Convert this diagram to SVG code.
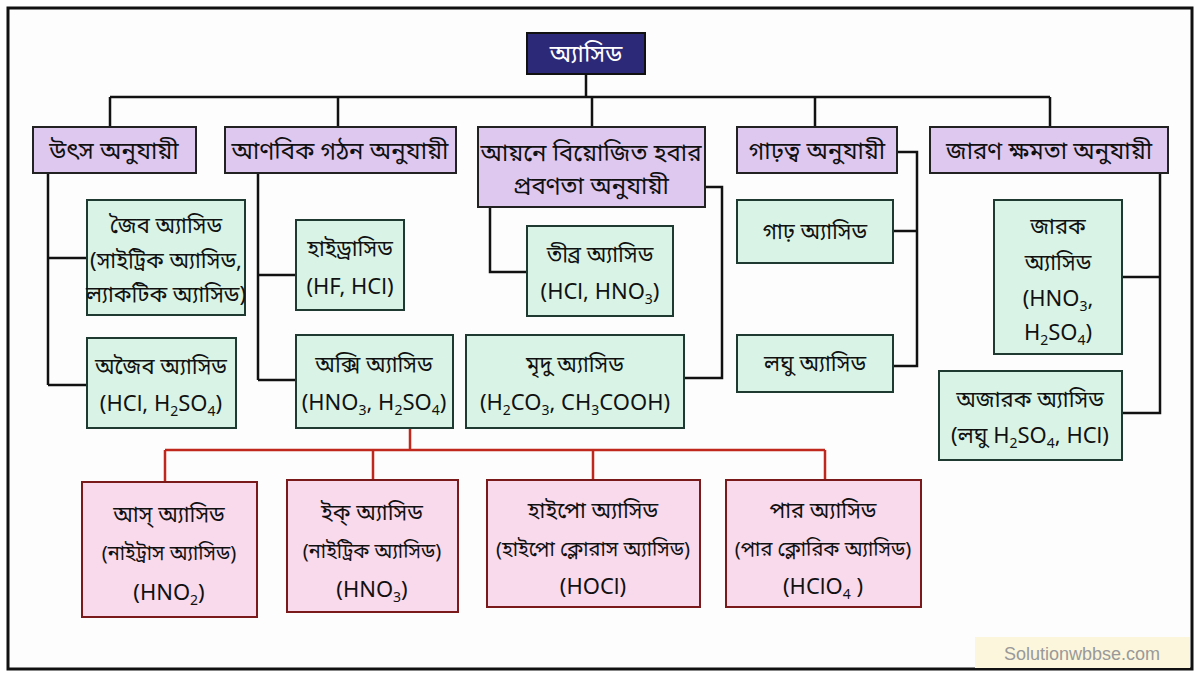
<svg xmlns="http://www.w3.org/2000/svg" width="1200" height="677" viewBox="0 0 1200 677">
<style>
text{font-family:"Noto Sans Bengali","Noto Sans","Liberation Sans",sans-serif;font-size:22px;fill:#111;text-anchor:middle}
.ct{font-size:24px}
.cat{fill:#dfc8ef;stroke:#222;stroke-width:2}
.grn{fill:#d9f4e6;stroke:#1f3a30;stroke-width:2}
.pnk{fill:#f9d9ec;stroke:#7a1a1a;stroke-width:2}
.ln{fill:none;stroke:#111;stroke-width:2.5}
.rl{fill:none;stroke:#c0281e;stroke-width:2.5}
.s{font-size:14px}
</style>
<rect width="1200" height="677" fill="#fff"/>
<rect x="8" y="8" width="1184" height="661" fill="#fdfdfd" stroke="#111" stroke-width="3"/>
<g id="connectors">
<path class="ln" d="M586 74V97M110 97H1050M110 97V127M338 97V127M592 97V127M815 97V127M1050 97V127"/>
<path class="ln" d="M48 173V385M48 258H87M48 385H87"/>
<path class="ln" d="M258 173V380M258 275H296M258 380H296"/>
<path class="ln" d="M490 207V272H527M705 187H722V378H684"/>
<path class="ln" d="M897 152H917V366H893M917 231H893"/>
<path class="ln" d="M1160 173V413H1122M1160 277H1122"/>
<path class="rl" d="M410 428V450M165 450H825M165 450V482M373 450V480M593 450V480M825 450V480"/>
</g>
<g id="root"><rect x="527" y="33" width="118" height="41" fill="#2c2a78" stroke="#111" stroke-width="2"/><text x="586" y="62" class="ct" style="fill:#fff">অ্যাসিড</text></g>
<g id="c1"><rect class="cat" x="33" y="127" width="163" height="46"/><text x="114" y="159" class="ct">উৎস অনুযায়ী</text></g>
<g id="c2"><rect class="cat" x="225" y="127" width="231" height="46"/><text x="340" y="159" class="ct">আণবিক গঠন অনুযায়ী</text></g>
<g id="c3"><rect class="cat" x="478" y="127" width="227" height="80"/><text x="591" y="161" class="ct">আয়নে বিয়োজিত হবার</text><text x="591" y="194" class="ct">প্রবণতা অনুযায়ী</text></g>
<g id="c4"><rect class="cat" x="737" y="127" width="160" height="46"/><text x="817" y="159" class="ct">গাঢ়ত্ব অনুযায়ী</text></g>
<g id="c5"><rect class="cat" x="930" y="127" width="238" height="46"/><text x="1049" y="159" class="ct">জারণ ক্ষমতা অনুযায়ী</text></g>
<g id="g1"><rect class="grn" x="87" y="200" width="158" height="115"/><text x="166" y="233">জৈব অ্যাসিড</text><text x="166" y="268">(সাইট্রিক অ্যাসিড,</text><text x="166" y="302">ল্যাকটিক অ্যাসিড)</text></g>
<g id="g2"><rect class="grn" x="87" y="338" width="149" height="90"/><text x="161" y="374">অজৈব অ্যাসিড</text><text x="161" y="411">(HCl, H<tspan class="s" dy="5">2</tspan><tspan dy="-5">SO</tspan><tspan class="s" dy="5">4</tspan><tspan dy="-5">)</tspan></text></g>
<g id="g3"><rect class="grn" x="296" y="220" width="108" height="90"/><text x="350" y="256">হাইড্রাসিড</text><text x="350" y="294">(HF, HCl)</text></g>
<g id="g4"><rect class="grn" x="296" y="335" width="157" height="93"/><text x="374" y="372">অক্সি অ্যাসিড</text><text x="374" y="410">(HNO<tspan class="s" dy="5">3</tspan><tspan dy="-5">, H</tspan><tspan class="s" dy="5">2</tspan><tspan dy="-5">SO</tspan><tspan class="s" dy="5">4</tspan><tspan dy="-5">)</tspan></text></g>
<g id="g5"><rect class="grn" x="527" y="226" width="146" height="90"/><text x="600" y="262">তীব্র অ্যাসিড</text><text x="600" y="299">(HCl, HNO<tspan class="s" dy="5">3</tspan><tspan dy="-5">)</tspan></text></g>
<g id="g6"><rect class="grn" x="466" y="335" width="218" height="93"/><text x="575" y="372">মৃদু অ্যাসিড</text><text x="575" y="410">(H<tspan class="s" dy="5">2</tspan><tspan dy="-5">CO</tspan><tspan class="s" dy="5">3</tspan><tspan dy="-5">, CH</tspan><tspan class="s" dy="5">3</tspan><tspan dy="-5">COOH)</tspan></text></g>
<g id="g7"><rect class="grn" x="737" y="200" width="156" height="63"/><text x="815" y="239">গাঢ় অ্যাসিড</text></g>
<g id="g8"><rect class="grn" x="737" y="335" width="156" height="57"/><text x="815" y="371">লঘু অ্যাসিড</text></g>
<g id="g9"><rect class="grn" x="994" y="200" width="128" height="154"/><text x="1058" y="234">জারক</text><text x="1058" y="270">অ্যাসিড</text><text x="1058" y="306">(HNO<tspan class="s" dy="5">3</tspan><tspan dy="-5">,</tspan></text><text x="1058" y="340">H<tspan class="s" dy="5">2</tspan><tspan dy="-5">SO</tspan><tspan class="s" dy="5">4</tspan><tspan dy="-5">)</tspan></text></g>
<g id="g10"><rect class="grn" x="939" y="371" width="183" height="89"/><text x="1030" y="407">অজারক অ্যাসিড</text><text x="1030" y="443">(লঘু H<tspan class="s" dy="5">2</tspan><tspan dy="-5">SO</tspan><tspan class="s" dy="5">4</tspan><tspan dy="-5">, HCl)</tspan></text></g>
<g id="p1"><rect class="pnk" x="82" y="482" width="175" height="135"/><text x="169" y="522">আস্ অ্যাসিড</text><text x="169" y="560" style="font-size:20px">(নাইট্রাস অ্যাসিড)</text><text x="169" y="600">(HNO<tspan class="s" dy="5">2</tspan><tspan dy="-5">)</tspan></text></g>
<g id="p2"><rect class="pnk" x="287" y="480" width="171" height="132"/><text x="372" y="520">ইক্ অ্যাসিড</text><text x="372" y="558" style="font-size:20px">(নাইট্রিক অ্যাসিড)</text><text x="372" y="597">(HNO<tspan class="s" dy="5">3</tspan><tspan dy="-5">)</tspan></text></g>
<g id="p3"><rect class="pnk" x="487" y="480" width="213" height="127"/><text x="593" y="518">হাইপো অ্যাসিড</text><text x="593" y="556" style="font-size:20px">(হাইপো ক্লোরাস অ্যাসিড)</text><text x="593" y="594">(HOCl)</text></g>
<g id="p4"><rect class="pnk" x="726" y="480" width="195" height="127"/><text x="823" y="518">পার অ্যাসিড</text><text x="823" y="556" style="font-size:20px">(পার ক্লোরিক অ্যাসিড)</text><text x="823" y="594">(HClO<tspan class="s" dy="5">4</tspan><tspan dy="-5"> )</tspan></text></g>
<g id="wm"><rect x="975" y="637" width="215" height="31" fill="#fbf6dc"/><text x="1082" y="660" style="font-family:'Liberation Sans',sans-serif;font-size:18px;fill:#999">Solutionwbbse.com</text></g>
</svg>
